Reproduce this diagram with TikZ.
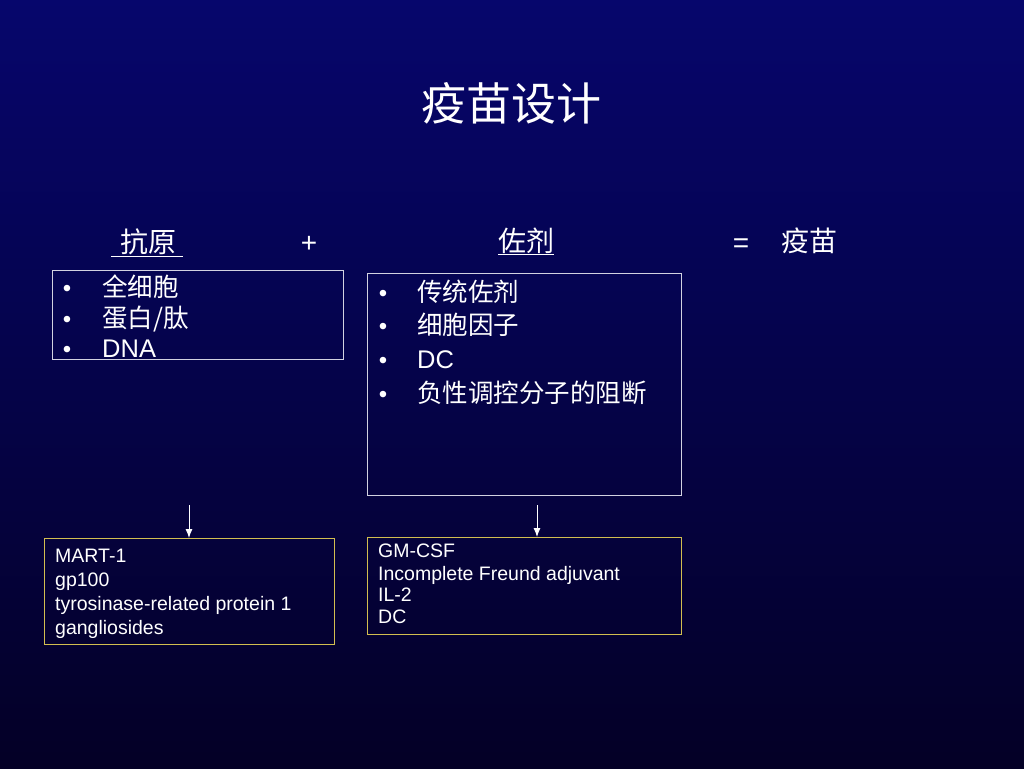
\documentclass[tikz,border=0pt]{standalone}
\usepackage{fontspec}
\setmainfont{Liberation Sans}
\newfontfamily\cjk{Noto Sans CJK SC}
\usetikzlibrary{arrows.meta}
\definecolor{slidetop}{RGB}{6,6,108}
\definecolor{slidebot}{RGB}{4,0,38}
\definecolor{boxgold}{RGB}{210,190,80}
\definecolor{boxline}{RGB}{210,210,225}
\tikzset{
  txt/.style={text=white, inner sep=0pt, anchor=base west},
  head/.style={text=white, inner sep=0pt, anchor=base, font=\fontsize{28}{32}\selectfont},
  listbox/.style={draw=boxline, line width=0.8pt, anchor=north west, inner sep=0pt},
  exbox/.style={draw=boxgold, line width=0.9pt, anchor=north west, inner sep=0pt}
}

\begin{document}
\begin{tikzpicture}[x=1pt, y=-1pt]
    \shade[top color=slidetop, bottom color=slidebot] (0,0) rectangle (1024,768);
    \useasboundingbox (0,0) rectangle (1024,768);
    \node[head, font=\cjk\fontsize{45}{50}\selectfont] (title) at (511,120) {疫苗设计};
    \node[head, font=\cjk\fontsize{28}{32}\selectfont] (antigen) at (147,252) {\underline{\hspace{9pt}抗原\hspace{7pt}}};
    \node[head] (plus) at (309,252) {+};
    \node[head, font=\cjk\fontsize{28}{32}\selectfont] (adjuvant) at (526,251) {\underline{佐剂}};
    \node[head] (equals) at (741,252) {=};
    \node[head, font=\cjk\fontsize{28}{32}\selectfont] (vaccine) at (809,251) {疫苗};
    \node[listbox, minimum width=291pt, minimum height=89pt] (antigenbox) at (52,270) {};
    \node[listbox, minimum width=314pt, minimum height=222pt] (adjbox) at (367,273) {};
    \foreach \y/\t [count=\i] in {296/{\cjk 全细胞}, 327/{\cjk 蛋白/肽}, 357/DNA} {
      \node[txt, anchor=base, font=\fontsize{24}{28}\selectfont] (agbul\i) at (67,\y) {•};
      \node[txt, font=\fontsize{25.5}{28}\selectfont] (ag\i) at (102,\y) {\t};
    }
    \foreach \y/\t [count=\i] in {301/{\cjk 传统佐剂}, 334/{\cjk 细胞因子}, 368/DC, 402/{\cjk 负性调控分子的阻断}} {
      \node[txt, anchor=base, font=\fontsize{24}{28}\selectfont] (adbul\i) at (383,\y) {•};
      \node[txt, font=\fontsize{25.5}{28}\selectfont] (ad\i) at (417,\y) {\t};
    }
    \node[exbox, minimum width=290pt, minimum height=106pt] (antigenex) at (44,538) {};
    \node[exbox, minimum width=314pt, minimum height=97pt] (adjex) at (367,537) {};
    \foreach \y/\t [count=\i] in {562/MART-1, 586/gp100, 610/tyrosinase-related protein 1, 634/gangliosides}
      \node[txt, font=\fontsize{19.5}{22}\selectfont] (agex\i) at (55,\y) {\t};
    \foreach \y/\t [count=\i] in {557/GM-CSF, 580/Incomplete Freund adjuvant, 601/IL-2, 623/DC}
      \node[txt, font=\fontsize{19.5}{22}\selectfont] (adex\i) at (378,\y) {\t};
    \coordinate (arrowa) at (189,505);
    \coordinate (arrowb) at (537,505);
    \draw[-{Latex[length=9pt,width=7pt]}, white, line width=0.9pt] (arrowa) -- (arrowa |- antigenex.north);
    \draw[-{Latex[length=9pt,width=7pt]}, white, line width=0.9pt] (arrowb) -- (arrowb |- adjex.north);
  \end{tikzpicture}
\end{document}
